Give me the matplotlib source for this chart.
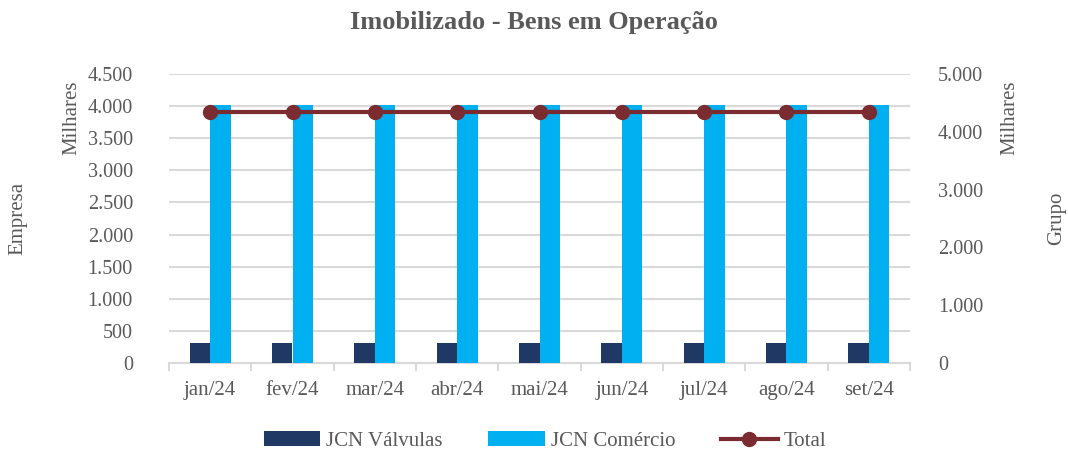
import matplotlib
matplotlib.use("Agg")
import matplotlib.pyplot as plt
import numpy as np
from matplotlib.ticker import FuncFormatter, MultipleLocator, FixedLocator

months = ["jan/24", "fev/24", "mar/24", "abr/24", "mai/24", "jun/24", "jul/24", "ago/24", "set/24"]
valvulas = [320, 320, 320, 320, 320, 320, 320, 320, 320]
comercio = [4020, 4020, 4020, 4020, 4020, 4020, 4020, 4020, 4020]
total = [4340, 4340, 4340, 4340, 4340, 4340, 4340, 4340, 4340]

plt.rcParams['font.family'] = ['Liberation Serif', 'DejaVu Serif']
TXT = '#595959'

fig = plt.figure(figsize=(10.68, 4.54), dpi=100)
ax = fig.add_axes([169/1068, 1-363.3/454, (910-169)/1068, (363.3-73.7)/454])
ax2 = ax.twinx()

x = np.arange(len(months))
w = 0.25
ax.bar(x - w/2, valvulas, width=w, color='#1F3864', label='JCN Válvulas', zorder=3)
ax.bar(x + w/2, comercio, width=w, color='#00B0F0', label='JCN Comércio', zorder=3)
ax2.plot(x, total, color='#7B2C31', lw=3, marker='o', markersize=10, label='Total', zorder=4)

ax.set_xlim(-0.5, len(months) - 0.5)
ax.set_ylim(0, 4500)
ax2.set_ylim(0, 5000)
ax.yaxis.set_major_locator(MultipleLocator(500))
ax2.yaxis.set_major_locator(MultipleLocator(1000))
fmt = FuncFormatter(lambda v, p: f"{int(v):,}".replace(",", "."))
ax.yaxis.set_major_formatter(fmt)
ax2.yaxis.set_major_formatter(fmt)

ax.grid(axis='y', color='#D9D9D9', lw=1.5, zorder=0)
ax.set_axisbelow(True)
for a in (ax, ax2):
    for s in ('top', 'left', 'right', 'bottom'):
        a.spines[s].set_visible(False)
ax.spines['bottom'].set_visible(True)
ax.spines['bottom'].set_color('#D9D9D9')
ax.spines['bottom'].set_linewidth(1.5)

ax.set_xticks(x)
ax.set_xticklabels(months)
ax.xaxis.set_minor_locator(FixedLocator(np.arange(-0.5, len(months), 1.0)))
ax.tick_params(axis='x', which='major', length=0, pad=13, labelsize=15, labelcolor=TXT)
ax.tick_params(axis='x', which='minor', length=6, width=1.5, color='#D9D9D9')
ax.tick_params(axis='y', length=0, pad=26, labelsize=14.5, labelcolor=TXT)
ax2.tick_params(axis='y', length=0, pad=20, labelsize=14.5, labelcolor=TXT)

fig.text(0.5, 1-23/454, 'Imobilizado - Bens em Operação', ha='center', va='center',
         fontsize=19, fontweight='bold', color=TXT)
fig.text(72/1068, 1-118/454, 'Milhares', rotation=90, ha='center', va='center', fontsize=15, color=TXT)
fig.text(1010/1068, 1-118/454, 'Milhares', rotation=90, ha='center', va='center', fontsize=15, color=TXT)
fig.text(18/1068, 1-218/454, 'Empresa', rotation=90, ha='center', va='center', fontsize=15, color=TXT)
fig.text(1057/1068, 1-218/454, 'Grupo', rotation=90, ha='center', va='center', fontsize=15, color=TXT)

h1, l1 = ax.get_legend_handles_labels()
h2, l2 = ax2.get_legend_handles_labels()
leg = fig.legend(h1 + h2, l1 + l2, loc='center', bbox_to_anchor=(545/1068, 1-441/454), ncol=3,
                 frameon=False, fontsize=15, handlelength=2.7, handleheight=0.7,
                 columnspacing=2.2, handletextpad=0.3)
for t in leg.get_texts():
    t.set_color(TXT)

fig.savefig('out.png', dpi=100)
